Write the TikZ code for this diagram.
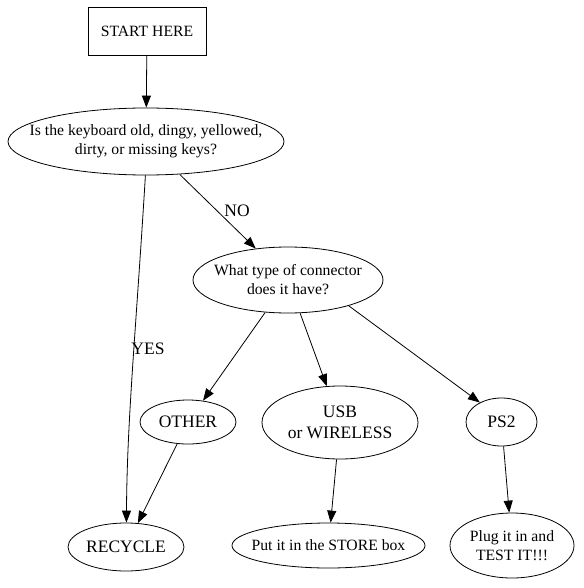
\documentclass[tikz,border=0pt]{standalone}
\usepackage{fontspec}
\setmainfont{Liberation Serif}
\usetikzlibrary{shapes.geometric,arrows.meta}
\begin{document}
\begin{tikzpicture}[x=1pt,y=-1pt,
  line width=0.8pt,
  oval/.style={draw,ellipse,inner sep=0pt},
  smalltxt/.style={align=center,inner sep=0pt,font=\fontsize{15.7}{19}\selectfont},
  bigtxt/.style={align=center,inner sep=0pt,font=\fontsize{17.5}{21}\selectfont},
  arr/.style={-{Triangle[length=12pt,width=9pt]}},
  lbl/.style={inner sep=0pt,font=\fontsize{17.5}{21}\selectfont}]
\useasboundingbox (0,0) rectangle (583,588);
% nodes
\node[draw,rectangle,minimum width=118pt,minimum height=48pt,inner sep=0pt,font=\fontsize{15.7}{19}\selectfont] (start) at (147,31) {START HERE};
\node[oval,minimum width=276pt,minimum height=67pt] (q1) at (146,141.5) {};
\node[smalltxt] (q1t) at (q1.center) {Is the keyboard old, dingy, yellowed,\\dirty, or missing keys?};
\node[oval,minimum width=190pt,minimum height=66pt] (q2) at (288,280) {};
\node[smalltxt] (q2t) at (q2.center) {What type of connector\\does it have?};
\node[oval,minimum width=96pt,minimum height=44pt] (other) at (188,422) {};
\node[bigtxt] (othert) at (other.center) {OTHER};
\node[oval,minimum width=156pt,minimum height=73pt] (usb) at (340,422.5) {};
\node[bigtxt] (usbt) at (usb.center) {USB\\or WIRELESS};
\node[oval,minimum width=71pt,minimum height=48pt] (ps2) at (501.5,422) {};
\node[bigtxt] (ps2t) at (ps2.center) {PS2};
\node[oval,minimum width=116pt,minimum height=48pt] (rec) at (126,547) {};
\node[bigtxt] (rect) at (rec.center) {RECYCLE};
\node[oval,minimum width=193pt,minimum height=45pt] (store) at (328.5,545.5) {};
\node[smalltxt] (storet) at (store.center) {Put it in the STORE box};
\node[oval,minimum width=124pt,minimum height=65pt] (test) at (512,545.5) {};
\node[smalltxt] (testt) at (test.center) {Plug it in and\\TEST IT!!!};
% edges
\draw[arr] (start) -- (q1);
\draw[arr] (q1.-91) .. controls (136,330) and (127,420) .. (rec.89);
\node[lbl] (yes) at (148,349) {YES};
\draw[arr] (q1) -- (q2);
\node[lbl] (no) at (237,211) {NO};
\draw[arr] (q2) -- (other);
\draw[arr] (q2) -- (usb);
\draw[arr] (q2.-23) -- (ps2.138);
\draw[arr] (other) -- (rec);
\draw[arr] (usb) -- (store);
\draw[arr] (ps2) -- (test);
\end{tikzpicture}
\end{document}
